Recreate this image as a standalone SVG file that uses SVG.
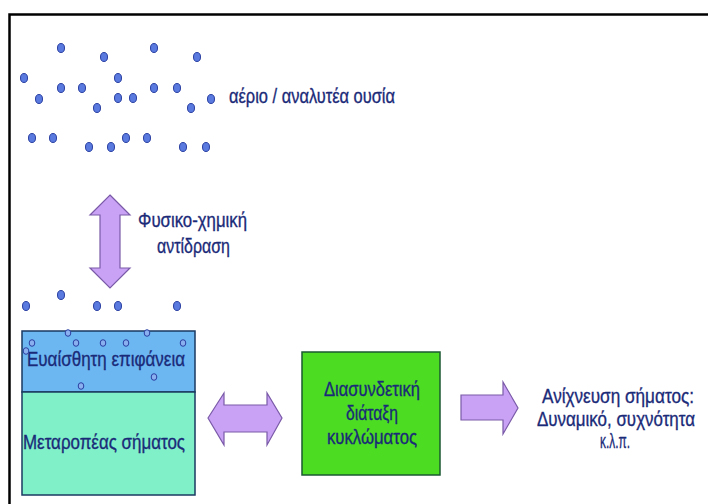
<svg xmlns="http://www.w3.org/2000/svg" width="708" height="504" viewBox="0 0 708 504">
<style>
  .t { font-family: "Liberation Sans Narrow", "Liberation Sans", Arial, sans-serif; font-size: 21px; fill: #1a2a78; stroke: #1a2a78; stroke-width: 0.35; }
  .dot { fill: #5a7ae0; stroke: #2a3fa0; stroke-width: 1; }
  .sdot { fill: #8ab0f0; stroke: #2a3fa0; stroke-width: 1; }
  .arrow { fill: #c9a2f5; stroke: #7a5aa8; stroke-width: 1.2; stroke-linejoin: miter; }
</style>
<rect x="0" y="0" width="708" height="504" fill="#ffffff"/>
<g id="frame">
  <path d="M9.5,504 V14.5 H708" fill="none" stroke="#000" stroke-width="2.5"/>
</g>
<g id="gas">
  <ellipse class="dot" cx="61" cy="48" rx="3.5" ry="4.5"/>
  <ellipse class="dot" cx="104" cy="57" rx="3.5" ry="4.5"/>
  <ellipse class="dot" cx="154" cy="48" rx="3.5" ry="4.5"/>
  <ellipse class="dot" cx="197" cy="57" rx="3.5" ry="4.5"/>
  <ellipse class="dot" cx="24" cy="78" rx="3.5" ry="4.5"/>
  <ellipse class="dot" cx="39" cy="99" rx="3.5" ry="4.5"/>
  <ellipse class="dot" cx="61" cy="88" rx="3.5" ry="4.5"/>
  <ellipse class="dot" cx="82" cy="88" rx="3.5" ry="4.5"/>
  <ellipse class="dot" cx="118" cy="78" rx="3.5" ry="4.5"/>
  <ellipse class="dot" cx="118" cy="98" rx="3.5" ry="4.5"/>
  <ellipse class="dot" cx="133" cy="98" rx="3.5" ry="4.5"/>
  <ellipse class="dot" cx="97" cy="108" rx="3.5" ry="4.5"/>
  <ellipse class="dot" cx="154" cy="88" rx="3.5" ry="4.5"/>
  <ellipse class="dot" cx="177" cy="88" rx="3.5" ry="4.5"/>
  <ellipse class="dot" cx="191" cy="108" rx="3.5" ry="4.5"/>
  <ellipse class="dot" cx="211" cy="99" rx="3.5" ry="4.5"/>
  <ellipse class="dot" cx="32" cy="138" rx="3.5" ry="4.5"/>
  <ellipse class="dot" cx="53" cy="138" rx="3.5" ry="4.5"/>
  <ellipse class="dot" cx="89" cy="147" rx="3.5" ry="4.5"/>
  <ellipse class="dot" cx="111" cy="147" rx="3.5" ry="4.5"/>
  <ellipse class="dot" cx="126" cy="138" rx="3.5" ry="4.5"/>
  <ellipse class="dot" cx="147" cy="138" rx="3.5" ry="4.5"/>
  <ellipse class="dot" cx="183" cy="147" rx="3.5" ry="4.5"/>
  <ellipse class="dot" cx="206" cy="147" rx="3.5" ry="4.5"/>
  <text class="t" x="229" y="103" textLength="166" lengthAdjust="spacingAndGlyphs">αέριο / αναλυτέα ουσία</text>
</g>
<g id="adsorbed">
  <ellipse class="dot" cx="26" cy="306" rx="3.5" ry="4.5"/>
  <ellipse class="dot" cx="61" cy="295" rx="3.5" ry="4.5"/>
  <ellipse class="dot" cx="97" cy="306" rx="3.5" ry="4.5"/>
  <ellipse class="dot" cx="118" cy="306" rx="3.5" ry="4.5"/>
  <ellipse class="dot" cx="177" cy="306" rx="3.5" ry="4.5"/>
</g>
<g id="reaction-label">
  <text class="t" x="138" y="227" textLength="109" lengthAdjust="spacingAndGlyphs">Φυσικο-χημική</text>
  <text class="t" x="157" y="253" textLength="73" lengthAdjust="spacingAndGlyphs">αντίδραση</text>
</g>
<g id="sensitive-surface">
  <rect x="22" y="331" width="173" height="61" fill="#6cb6f2" stroke="#1a3a60" stroke-width="1.5"/>
  <text class="t" x="27" y="366" textLength="158" lengthAdjust="spacingAndGlyphs">Ευαίσθητη επιφάνεια</text>
  <ellipse class="sdot" cx="26" cy="351" rx="2.8" ry="3.3"/>
  <ellipse class="sdot" cx="32" cy="343" rx="2.8" ry="3.3"/>
  <ellipse class="sdot" cx="68" cy="333" rx="2.8" ry="3.3"/>
  <ellipse class="sdot" cx="76" cy="343" rx="2.8" ry="3.3"/>
  <ellipse class="sdot" cx="103" cy="343" rx="2.8" ry="3.3"/>
  <ellipse class="sdot" cx="126" cy="343" rx="2.8" ry="3.3"/>
  <ellipse class="sdot" cx="147" cy="333" rx="2.8" ry="3.3"/>
  <ellipse class="sdot" cx="183" cy="343" rx="2.8" ry="3.3"/>
  <ellipse class="sdot" cx="81" cy="386" rx="2.8" ry="3.3"/>
  <ellipse class="sdot" cx="154" cy="377" rx="2.8" ry="3.3"/>
</g>
<g id="transducer">
  <rect x="22" y="392" width="173" height="103" fill="#80f0c8" stroke="#1a3a60" stroke-width="1.5"/>
  <text class="t" x="23" y="449" textLength="162" lengthAdjust="spacingAndGlyphs">Μεταροπέας σήματος</text>
</g>
<g id="interface-circuit">
  <rect x="302" y="352" width="138" height="123" fill="#4cdc22" stroke="#1a5a30" stroke-width="1.5"/>
  <text class="t" x="324" y="396" textLength="96" lengthAdjust="spacingAndGlyphs">Διασυνδετική</text>
  <text class="t" x="346" y="420" textLength="52" lengthAdjust="spacingAndGlyphs">διάταξη</text>
  <text class="t" x="327" y="444" textLength="90" lengthAdjust="spacingAndGlyphs">κυκλώματος</text>
</g>
<g id="signal-detection">
  <text class="t" transform="translate(542,403) scale(0.8,1)" x="0" y="0" textLength="190" lengthAdjust="spacingAndGlyphs">Ανίχνευση σήματος:</text>
  <text class="t" transform="translate(537,426) scale(0.8,1)" x="0" y="0" textLength="197.5" lengthAdjust="spacingAndGlyphs">Δυναμικό, συχνότητα</text>
  <text class="t" x="600" y="448" textLength="30" lengthAdjust="spacingAndGlyphs">κ.λ.π.</text>
</g>
<g id="connectors">
  <polygon class="arrow" points="110,195 130,215 120,215 120,268 130,268 110,288 90,268 100,268 100,215 90,215"/>
  <polygon class="arrow" points="208,418 224,393 224,405 267,405 267,393 282,418 267,445 267,432 224,432 224,445"/>
  <polygon class="arrow" points="461,395 503,395 503,382 518,408 503,434 503,420 461,420"/>
</g>
</svg>
